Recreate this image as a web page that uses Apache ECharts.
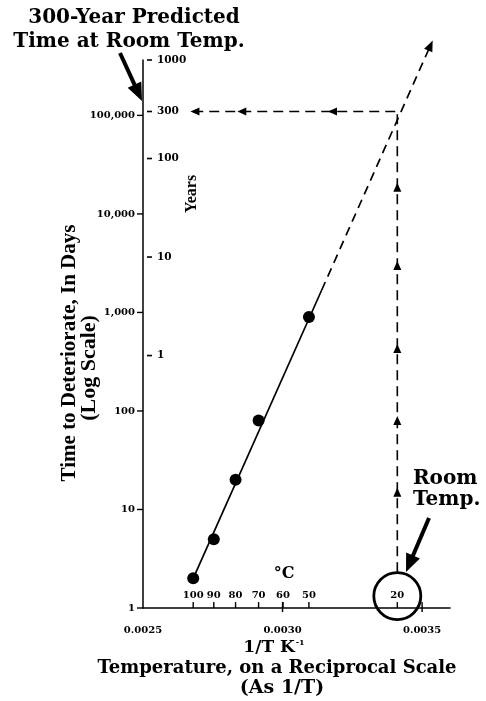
<!DOCTYPE html>
<html><head><meta charset="utf-8">
<script src="https://cdn.jsdelivr.net/npm/echarts@6/dist/echarts.min.js"></script>
<style>html,body{margin:0;padding:0;background:#fff}#c{width:486px;height:701px}</style>
</head><body><div id="c"></div>
<script>
// ---- data ----
const xTickVals = [0.0025, 0.0030, 0.0035];
const dayTicks = [1, 10, 100, 1000, 10000, 100000];
const yearTicks = [1000, 300, 100, 10, 1];
const celsiusTicks = [100, 90, 80, 70, 60, 50, 20];
const testCelsius = [100, 90, 80, 70, 50];
const testDays = [2, 5, 20, 80, 900];
const fitSolid = [[0.00268, 2], [0.00314, 1680]];
const fitDashed = [[0.00314, 1680], [0.00353, 513000]];
const roomTempC = 20;
const predictedYears = 300;
const horizArrowX = [0.002686, 0.002854, 0.003179];
const vertArrowDays = [18600, 3000, 430, 80, 15];
const vertLineBottomDays = 2.3;
const circleDays = 1.32;

const X_MIN = 0.0025, X_MAX = 0.0036, Y_MIN = 1, Y_MAX = 365000;
const invT = c => 1 / (c + 273.15);
const roomX = invT(roomTempC);
const predDays = predictedYears * 365;
const SERIF = '"DejaVu Serif", "Liberation Serif", serif';
const TIMES = '"Liberation Serif", "DejaVu Serif", serif';

const chart = echarts.init(document.getElementById('c'), null, {renderer: 'canvas'});

function tickSeries(data, render) {
  return {type: 'custom', coordinateSystem: 'cartesian2d', silent: true, clip: false, z: 5,
    data: data, renderItem: render};
}
const black = {color: '#000', opacity: 1};

const option = {
  animation: false,
  backgroundColor: '#fff',
  grid: {left: 143, right: 36, top: 60, bottom: 93, containLabel: false},
  xAxis: {
    type: 'value', min: X_MIN, max: X_MAX, interval: 0.0005,
    axisLine: {show: true, lineStyle: {color: '#000', width: 1.5}},
    axisTick: {show: false}, splitLine: {show: false},
    axisLabel: {
      showMaxLabel: false, margin: 17, color: '#000', fontFamily: SERIF, fontWeight: 'bold', fontSize: 10,
      formatter: v => xTickVals.some(t => Math.abs(t - v) < 1e-9) ? v.toFixed(4) : ''
    }
  },
  yAxis: {
    type: 'log', logBase: 10, min: Y_MIN, max: Y_MAX,
    axisLine: {show: true, lineStyle: {color: '#000', width: 1.5}},
    axisTick: {show: false}, splitLine: {show: false},
    axisLabel: {
      showMaxLabel: false, margin: 8, color: '#000', fontFamily: SERIF, fontWeight: 'bold', fontSize: 10,
      formatter: v => { const r = Math.round(v); return dayTicks.includes(r) ? r.toLocaleString('en-US') : ''; }
    }
  },
  series: [
    // day ticks (left side of axis)
    tickSeries(dayTicks.map(d => [X_MIN, d]), (p, api) => {
      const c = api.coord([X_MIN, api.value(1)]);
      return {type: 'line', shape: {x1: c[0] - 6, y1: c[1], x2: c[0], y2: c[1]}, style: {stroke: '#000', lineWidth: 1.4}};
    }),
    // year ticks (right side of axis)
    tickSeries(yearTicks.map(y => [X_MIN, y * 365]), (p, api) => {
      const c = api.coord([X_MIN, api.value(1)]);
      return {type: 'group', children: [
        {type: 'line', shape: {x1: c[0] + 4, y1: c[1], x2: c[0] + 9, y2: c[1]}, style: {stroke: '#000', lineWidth: 1.6}},
        {type: 'text', style: {text: String(yearTicks[p.dataIndex]), x: c[0] + 14, y: c[1], verticalAlign: 'middle',
          font: 'bold 10.5px ' + SERIF, fill: '#000'}}
      ]};
    }),
    // x value ticks (inside, upward)
    tickSeries(xTickVals.slice(1).map(x => [x, Y_MIN]), (p, api) => {
      const c = api.coord([api.value(0), Y_MIN]);
      return {type: 'line', shape: {x1: c[0], y1: c[1] + 4, x2: c[0], y2: c[1] - 6}, style: {stroke: '#000', lineWidth: 1.4}};
    }),
    // celsius ticks + labels
    tickSeries(celsiusTicks.map(t => [invT(t), Y_MIN]), (p, api) => {
      const c = api.coord([api.value(0), Y_MIN]);
      return {type: 'group', children: [
        {type: 'line', shape: {x1: c[0], y1: c[1], x2: c[0], y2: c[1] - 6}, style: {stroke: '#000', lineWidth: 1.4}},
        {type: 'text', style: {text: String(celsiusTicks[p.dataIndex]), x: c[0], y: c[1] - 13, align: 'center', verticalAlign: 'middle',
          font: 'bold 10px ' + SERIF, fill: '#000'}}
      ]};
    }),
    // fitted line, solid part
    {type: 'line', data: fitSolid, symbol: 'none', clip: false, silent: true,
      lineStyle: {color: '#000', width: 1.7, opacity: 1}},
    // fitted line, dashed extrapolation
    {type: 'line', data: fitDashed, symbol: 'none', clip: false, silent: true,
      lineStyle: {color: '#000', width: 1.7, type: [9, 6], opacity: 1}},
    // arrowhead at end of extrapolation
    {type: 'scatter', data: [fitDashed[1]], symbol: 'triangle', symbolSize: [9, 11], symbolRotate: -24, clip: false,
      silent: true, itemStyle: black},
    // horizontal dashed line at 300 years
    {type: 'line', data: [[horizArrowX[0] - 0.000006, predDays], [roomX, predDays]], symbol: 'none', clip: false, silent: true,
      lineStyle: {color: '#000', width: 1.6, type: [10, 6], opacity: 1}},
    {type: 'scatter', data: horizArrowX.map(x => [x, predDays]), symbol: 'triangle', symbolSize: [8, 9], symbolRotate: 90,
      clip: false, silent: true, itemStyle: black},
    // vertical dashed line at room temperature
    {type: 'line', data: [[roomX, vertLineBottomDays], [roomX, predDays]], symbol: 'none', clip: false, silent: true,
      lineStyle: {color: '#000', width: 1.6, type: [10, 6], opacity: 1}},
    {type: 'scatter', data: vertArrowDays.map(d => [roomX, d]), symbol: 'triangle', symbolSize: [8, 9],
      clip: false, silent: true, itemStyle: black},
    // test points
    {type: 'scatter', data: testCelsius.map((c, i) => [invT(c), testDays[i]]), symbol: 'circle', symbolSize: 12,
      silent: true, z: 6, itemStyle: black},
    // room temperature circle
    {type: 'scatter', data: [[roomX, circleDays]], symbol: 'circle', symbolSize: 47, clip: false, silent: true,
      itemStyle: {color: 'rgba(0,0,0,0)', borderColor: '#000', borderWidth: 2.8, opacity: 1}}
  ]
};
chart.setOption(option);

function arrow(x1, y1, x2, y2, w, headL, headW) {
  const dx = x2 - x1, dy = y2 - y1, L = Math.hypot(dx, dy);
  const ux = dx / L, uy = dy / L, nx = -uy, ny = ux;
  const bx = x2 - ux * headL, by = y2 - uy * headL;
  return [
    {type: 'line', shape: {x1: x1, y1: y1, x2: bx + ux * 2, y2: by + uy * 2}, style: {stroke: '#000', lineWidth: w}},
    {type: 'polygon', shape: {points: [[x2, y2], [bx + nx * headW / 2, by + ny * headW / 2], [bx - nx * headW / 2, by - ny * headW / 2]]},
      style: {fill: '#000'}}
  ];
}

const t = (text, x, y, font, extra, align) => Object.assign({type: 'text', x: x, y: y,
  style: {text: text, font: font, fill: '#000', align: align || 'center', verticalAlign: 'middle'}}, extra || {});

chart.setOption({graphic: [
  t('300-Year Predicted', 134, 18, 'bold 20px ' + SERIF),
  t('Time at Room Temp.', 129, 42, 'bold 20px ' + SERIF),
  ...arrow(120, 53, 142, 101, 4, 18, 15),
  t('Room', 413, 479, 'bold 20px ' + SERIF, null, 'left'),
  t('Temp.', 413, 500, 'bold 20px ' + SERIF, null, 'left'),
  ...arrow(429, 518, 406, 572, 4, 18, 15),
  t('Time to Deteriorate, In Days', 70, 353, 'bold 21px ' + TIMES, {rotation: Math.PI / 2}),
  t('(Log Scale)', 89, 368, 'bold 22px ' + TIMES, {rotation: Math.PI / 2}),
  t('Years', 192, 194, 'bold 16px ' + TIMES, {rotation: Math.PI / 2}),
  t('\u00B0C', 284, 574, 'bold 16px ' + SERIF),
  {type: 'text', x: 274, y: 648, style: {
    text: '{b|1/T K}{s|-1}', fill: '#000', align: 'center', verticalAlign: 'middle',
    rich: {b: {font: 'bold 17px ' + SERIF, fill: '#000'}, s: {font: 'bold 8px ' + SERIF, fill: '#000', verticalAlign: 'top', padding: [0, 0, 10, 1]}}
  }},
  t('Temperature, on a Reciprocal Scale', 277, 668, 'bold 18px ' + SERIF),
  t('(As 1/T)', 282, 688, 'bold 19px ' + SERIF)
]});
</script></body></html>
